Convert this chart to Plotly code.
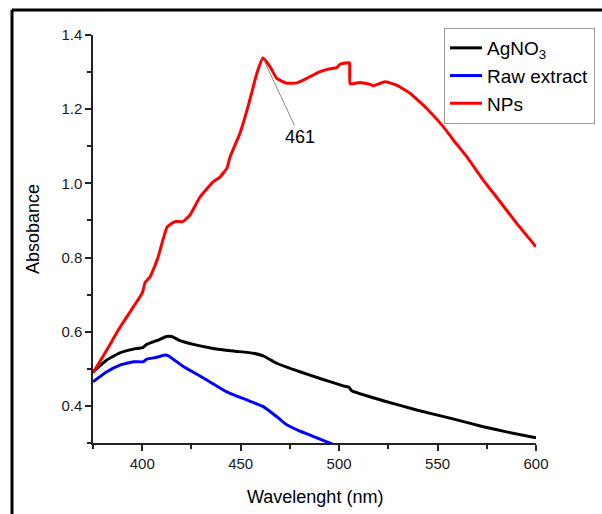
import plotly.graph_objects as go

# ---- data ----
np_wl = [375, 382, 388.7, 395.5, 400, 401.5, 404, 406, 408, 412.6, 416.6, 420.7, 424.3, 429.3,
         436, 439.5, 443, 444.6, 449.7, 453.7, 458.3, 461.3, 464.9, 468.3, 473.4, 478.5, 483.5,
         490.3, 494.5, 498.8, 500.4, 504.7, 505.3, 505.6, 510.6, 515.7, 517.4, 523.3, 529.2, 536,
         544.5, 552.9, 558, 564.8, 573.2, 581.7, 590.2, 600]
np_abs = [0.489, 0.551, 0.612, 0.667, 0.704, 0.733, 0.748, 0.772, 0.800, 0.882, 0.897, 0.897, 0.915, 0.963,
          1.004, 1.017, 1.041, 1.071, 1.136, 1.206, 1.298, 1.338, 1.315, 1.283, 1.270, 1.271, 1.283,
          1.301, 1.308, 1.312, 1.321, 1.325, 1.325, 1.268, 1.272, 1.267, 1.263, 1.274, 1.265, 1.243,
          1.202, 1.153, 1.117, 1.072, 1.009, 0.951, 0.892, 0.829]

ag_wl = [375, 382, 388.7, 395.5, 400.5, 402.3, 407.4, 412.4, 415, 419.2, 426, 436.1, 446.3, 456.4,
         461.5, 468.3, 480.1, 490.3, 502.1, 505, 506.4, 522.4, 539.4, 556.3, 573.2, 585, 600]
ag_abs = [0.492, 0.524, 0.543, 0.553, 0.558, 0.566, 0.576, 0.587, 0.587, 0.576, 0.566, 0.555, 0.548, 0.542,
          0.535, 0.515, 0.492, 0.474, 0.454, 0.450, 0.441, 0.414, 0.389, 0.367, 0.344, 0.330, 0.314]

raw_wl = [375, 382, 388.7, 395.5, 400.5, 402.3, 407.4, 411.6, 413.3, 420.9, 432.8, 442.9, 453.1,
          461.5, 468.3, 473.4, 480.1, 495.4, 500]
raw_abs = [0.465, 0.492, 0.510, 0.519, 0.519, 0.526, 0.531, 0.537, 0.535, 0.506, 0.470, 0.438, 0.416,
           0.398, 0.371, 0.349, 0.332, 0.300, 0.288]

peak_wl = 461.3
peak_abs = 1.338
peak_label = "461"

FONT = "Liberation Sans, Arial, sans-serif"

fig = go.Figure()
fig.add_trace(go.Scatter(x=ag_wl, y=ag_abs, mode="lines", name="AgNO<sub>3</sub>",
                         line=dict(color="#000000", width=3, shape="spline", smoothing=0.4)))
fig.add_trace(go.Scatter(x=raw_wl, y=raw_abs, mode="lines", name="Raw extract",
                         line=dict(color="#0000ff", width=3, shape="spline", smoothing=0.4)))
fig.add_trace(go.Scatter(x=np_wl, y=np_abs, mode="lines", name="NPs",
                         line=dict(color="#ff0000", width=3, shape="spline", smoothing=0.35)))

L, R, T, B = 93, 66, 35, 71
W, H = 602, 514
pw, ph = W - L - R, H - T - B

def px_x(px):
    return (px - L) / pw

def px_y(py):
    return (H - B - py) / ph

fig.update_layout(
    width=W, height=H,
    margin=dict(l=L, r=R, t=T, b=B, pad=0, autoexpand=False),
    paper_bgcolor="white", plot_bgcolor="white",
    font=dict(family=FONT, color="#1a1a1a", size=15),
    showlegend=True,
    legend=dict(x=px_x(444), y=px_y(28), xanchor="left", yanchor="top",
                bordercolor="#9a9a9a", borderwidth=1, bgcolor="white",
                font=dict(family=FONT, size=19, color="#000000"),
                itemwidth=32, tracegroupgap=0),
    xaxis=dict(range=[375, 600], tick0=400, dtick=50, showgrid=False, zeroline=False,
               showline=True, linecolor="#222222", linewidth=1.5,
               ticks="outside", ticklen=6, tickwidth=1.5, tickcolor="#222222",
               minor=dict(dtick=25, ticks="outside", ticklen=4, tickwidth=1.5, tickcolor="#222222"),
               tickfont=dict(size=15, family=FONT, color="#1a1a1a"), mirror=False),
    yaxis=dict(range=[0.3, 1.4], tick0=0.4, dtick=0.2, tickformat=".1f", showgrid=False, zeroline=False,
               showline=True, linecolor="#222222", linewidth=1.5,
               ticks="outside", ticklen=6, tickwidth=1.5, tickcolor="#222222",
               minor=dict(dtick=0.1, ticks="outside", ticklen=4, tickwidth=1.5, tickcolor="#222222"),
               tickfont=dict(size=15, family=FONT, color="#1a1a1a"), mirror=False),
)

# axis titles
fig.add_annotation(text="Wavelenght (nm)", xref="paper", yref="paper",
                   x=px_x(314.5), y=px_y(497), xanchor="center", yanchor="middle",
                   showarrow=False, font=dict(size=18, family=FONT, color="#000000"))
fig.add_annotation(text="Absobance", xref="paper", yref="paper",
                   x=px_x(33), y=px_y(229), xanchor="center", yanchor="middle", textangle=-90,
                   showarrow=False, font=dict(size=18, family=FONT, color="#000000"))

# peak label
fig.add_annotation(text=peak_label, x=peak_wl, y=peak_abs, xref="x", yref="y",
                   showarrow=True, arrowhead=0, arrowwidth=1, arrowcolor="#888888",
                   ax=37, ay=79, standoff=2,
                   font=dict(size=18, family=FONT, color="#000000"))

# outer frame (top and left edges)
fig.add_shape(type="line", xref="paper", yref="paper",
              x0=px_x(12), x1=px_x(602), y0=px_y(10), y1=px_y(10),
              line=dict(color="#000000", width=3))
fig.add_shape(type="line", xref="paper", yref="paper",
              x0=px_x(12), x1=px_x(12), y0=px_y(10), y1=px_y(516),
              line=dict(color="#000000", width=3))

fig.write_html("out.html")
